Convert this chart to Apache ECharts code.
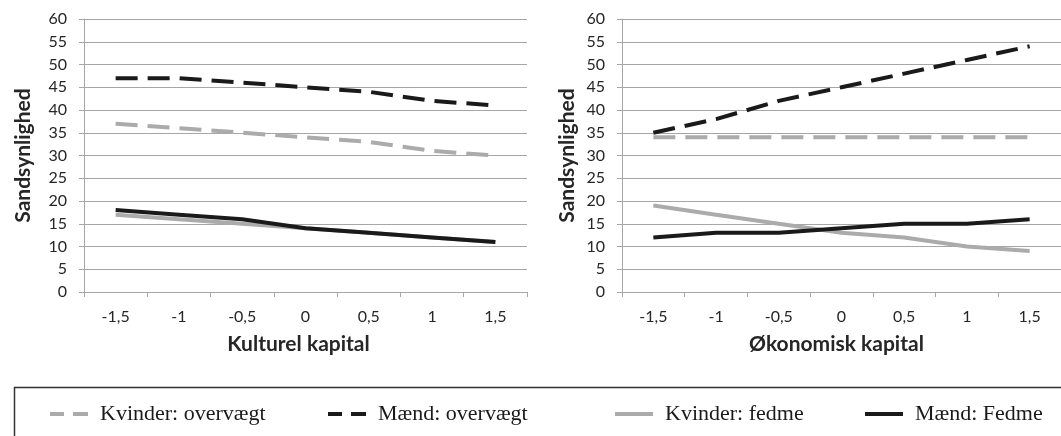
<!DOCTYPE html>
<html>
<head>
<meta charset="utf-8">
<script src="https://cdn.jsdelivr.net/npm/echarts@6/dist/echarts.min.js"></script>
<style>
html,body{margin:0;padding:0;background:#fff;}
#c{width:1061px;height:436px;}
</style>
</head>
<body>
<div id="c"></div>
<script>
const categories = ['-1,5','-1','-0,5','0','0,5','1','1,5'];
const yTicks = [0,5,10,15,20,25,30,35,40,45,50,55,60];

// Kulturel kapital
const kulKvinderOvervaegt = [37,36,35,34,33,31,30];
const kulMaendOvervaegt   = [47,47,46,45,44,42,41];
const kulKvinderFedme     = [17,16,15,14,13,12,11];
const kulMaendFedme       = [18,17,16,14,13,12,11];

// Økonomisk kapital
const okoKvinderOvervaegt = [34,34,34,34,34,34,34];
const okoMaendOvervaegt   = [35,38,42,45,48,51,54];
const okoKvinderFedme     = [19,17,15,13,12,10,9];
const okoMaendFedme       = [12,13,13,14,15,15,16];

const names = ['Kvinder: overvægt','Mænd: overvægt','Kvinder: fedme','Mænd: Fedme'];

const GRAY = '#ababab';
const BLACK = '#1a1a1a';
const GRID = '#a6a6a6';
const SANS = 'Lato';
const DASH_ICON = 'path://M0,0h14v4h-14z M23,0h15v4h-15z';
const SOLID_ICON = 'path://M0,0h38v4h-38z';

function xAxis(idx, title, pad){
  return {
    type:'category', gridIndex: idx, data: categories, boundaryGap:true,
    axisLine:{show:true, lineStyle:{color:GRID, width:1}},
    axisTick:{show:true, length:5, lineStyle:{color:GRID}},
    axisLabel:{color:'#262626', fontFamily:SANS, fontSize:16, margin:17},
    name:title, nameLocation:'middle', nameGap:42,
    nameTextStyle:{fontFamily:SANS, fontWeight:'bold', fontSize:21, color:'#262626', padding:[0,pad,0,0]}
  };
}
function yAxis(idx, gap){
  return {
    type:'value', gridIndex: idx, min:0, max:60, interval:5,
    axisLine:{show:true, lineStyle:{color:GRID, width:1}},
    axisTick:{show:true, length:5, lineStyle:{color:GRID}},
    axisLabel:{color:'#262626', fontFamily:SANS, fontSize:16, margin:17,
      formatter: v => yTicks.indexOf(v) >= 0 ? String(v) : ''},
    splitLine:{show:true, lineStyle:{color:GRID, width:1}},
    name:'Sandsynlighed', nameLocation:'middle', nameGap:gap, nameRotate:90,
    nameTextStyle:{fontFamily:SANS, fontWeight:'bold', fontSize:21, color:'#262626'}
  };
}
function ser(name, data, idx, color, dashed){
  return {
    name, type:'line', xAxisIndex:idx, yAxisIndex:idx, data,
    symbol:'none', smooth:false, silent:true,
    lineStyle:{color, width:4, type: dashed ? [22,10] : 'solid', cap:'butt'},
    itemStyle:{color},
    z: color === BLACK ? 3 : 2
  };
}
function leg(name, left, dashed){
  return {
    data:[{name, icon: dashed ? DASH_ICON : SOLID_ICON}], left: left, top: 398,
    itemWidth:38, itemHeight:4,
    selectedMode:false,
    textStyle:{fontFamily:'Liberation Serif', fontSize:22, color:'#1a1a1a', padding:[0,0,0,7]}
  };
}

const chart = echarts.init(document.getElementById('c'), null, {renderer:'canvas'});
chart.setOption({
  animation:false,
  backgroundColor:'#fff',
  grid:[
    {left:84, top:19, width:443, height:273},
    {left:622, top:19, width:443, height:273}
  ],
  xAxis:[xAxis(0,'Kulturel kapital',14), xAxis(1,'Økonomisk kapital',10)],
  yAxis:[yAxis(0,50), yAxis(1,44)],
  legend:[
    leg(names[0], 45, true),
    leg(names[1], 323, true),
    leg(names[2], 610, false),
    leg(names[3], 860, false)
  ],
  graphic:[{
    type:'rect', left:12, top:385, silent:true,
    shape:{x:0,y:0,width:1100,height:100},
    style:{fill:'none', stroke:'#333', lineWidth:1.5}
  }],
  series:[
    ser(names[0], kulKvinderOvervaegt, 0, GRAY, true),
    ser(names[1], kulMaendOvervaegt, 0, BLACK, true),
    ser(names[2], kulKvinderFedme, 0, GRAY, false),
    ser(names[3], kulMaendFedme, 0, BLACK, false),
    ser(names[0], okoKvinderOvervaegt, 1, GRAY, true),
    ser(names[1], okoMaendOvervaegt, 1, BLACK, true),
    ser(names[2], okoKvinderFedme, 1, GRAY, false),
    ser(names[3], okoMaendFedme, 1, BLACK, false)
  ]
});
</script>
</body>
</html>
